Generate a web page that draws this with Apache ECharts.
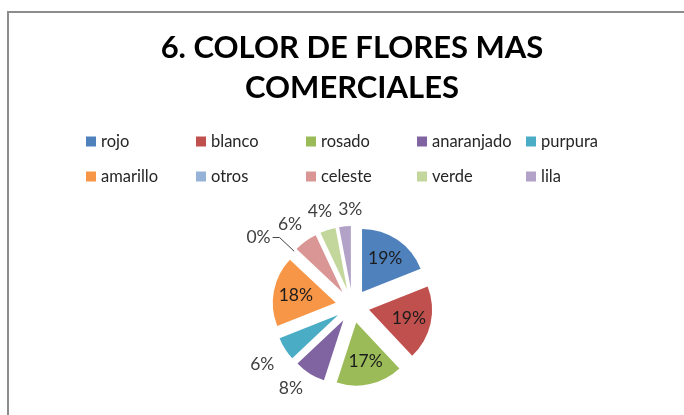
<!DOCTYPE html>
<html><head><meta charset="utf-8">
<script src="https://cdn.jsdelivr.net/npm/echarts@6/dist/echarts.min.js"></script>
<style>html,body{margin:0;padding:0;background:#fff}#c{width:684px;height:415px}</style>
</head><body><div id="c"></div>
<script>
const titleText = '6. COLOR DE FLORES MAS\nCOMERCIALES';
const categories = ['rojo', 'blanco', 'rosado', 'anaranjado', 'purpura', 'amarillo', 'otros', 'celeste', 'verde', 'lila'];
const percentages = [19, 19, 17, 8, 6, 18, 0, 6, 4, 3];
const colors = ['#4F81BD', '#C0504D', '#9BBB59', '#8064A2', '#4BACC6', '#F79646', '#95B3D7', '#D99694', '#C3D69B', '#B3A2C7'];

// label placement (layout only)
const INSIDE = {len: -23, len2: -16.5, dist: 0, inside: true};
const labelPlacement = {
  rojo: INSIDE, blanco: INSIDE, rosado: INSIDE, amarillo: INSIDE,
  anaranjado: {len: 18, len2: -3, dist: 0},
  purpura: {len: 28, len2: -13, dist: 0},
  otros: {len: 20, len2: 7, dist: 2, line: true},
  celeste: {len: 21, len2: -9, dist: 0},
  verde: {len: 19, len2: -10, dist: 0},
  lila: {len: 17.5, len2: -19, dist: 0}
};

const FONT = 'Lato';
const legendCols = [86, 196, 306, 417, 526];
const legendRows = [133, 168];

const chart = echarts.init(document.getElementById('c'), null, {renderer: 'canvas'});

const pieData = categories.map((name, i) => {
  const p = labelPlacement[name];
  return {
    name: name,
    value: percentages[i],
    selected: true,
    itemStyle: {color: colors[i]},
    label: {
      distanceToLabelLine: p.dist,
      color: p.inside ? '#1c1c1c' : '#404040'
    },
    labelLine: {show: !!p.line, length: p.len, length2: p.len2}
  };
});

const option = {
  animation: false,
  backgroundColor: '#ffffff',
  title: {
    text: titleText,
    left: 352, top: 28, textAlign: 'center', padding: 0,
    textStyle: {fontFamily: FONT, fontWeight: 'bold', fontSize: 31, lineHeight: 40, color: '#000000'}
  },
  legend: categories.map((name, i) => ({
    data: [name],
    left: legendCols[i % 5],
    top: legendRows[Math.floor(i / 5)],
    icon: 'rect', itemWidth: 10, itemHeight: 10, itemGap: 0, padding: 0,
    selectedMode: false,
    textStyle: {fontFamily: FONT, fontSize: 16.5, lineHeight: 16, color: '#262626'}
  })),
  graphic: [{
    type: 'rect', silent: true, z: -1,
    shape: {x: 8, y: 12, width: 760, height: 480},
    style: {fill: 'none', stroke: '#8c8c8c', lineWidth: 2}
  }],
  series: [{
    type: 'pie',
    center: [352.5, 306],
    radius: 63,
    startAngle: 90,
    clockwise: true,
    selectedMode: 'multiple',
    selectedOffset: 17,
    avoidLabelOverlap: false,
    emphasis: {disabled: true},
    select: {itemStyle: {borderWidth: 0}},
    label: {
      show: true, position: 'outside',
      fontFamily: FONT, fontSize: 17.5,
      formatter: p => p.value + '%'
    },
    labelLine: {lineStyle: {color: '#404040', width: 1}},
    data: pieData
  }]
};
chart.setOption(option);
</script></body></html>
